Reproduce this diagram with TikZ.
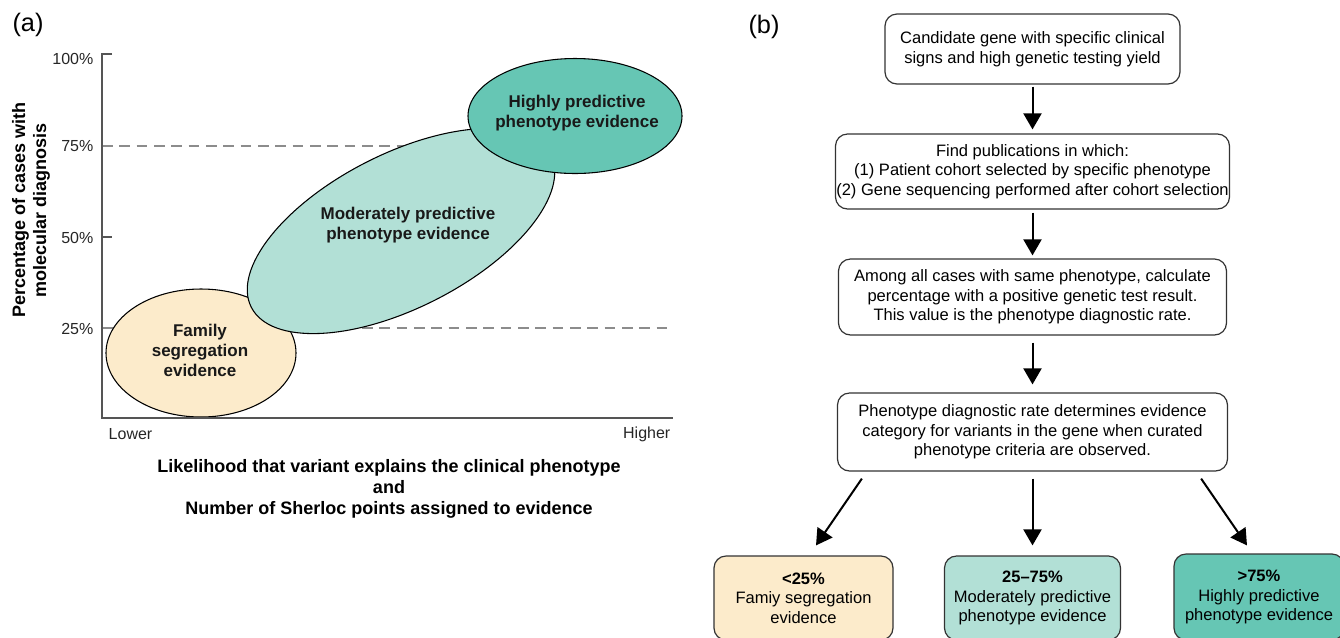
\documentclass[tikz,border=0pt]{standalone}
\usepackage{fontspec}
\setmainfont{Liberation Sans}
\usetikzlibrary{shapes.geometric,arrows.meta,calc}
\definecolor{beige}{HTML}{FCEBCB}
\definecolor{lteal}{HTML}{B2E0D6}
\definecolor{dteal}{HTML}{66C6B4}
\definecolor{axisgray}{HTML}{555555}
\definecolor{dashgray}{HTML}{8C8C8C}
\definecolor{edgegray}{HTML}{333333}
\begin{document}
\begin{tikzpicture}[x=0.75pt,y=-0.75pt,
  blob/.style={ellipse, draw=black, line width=0.8pt, inner sep=0pt},
  blobtext/.style={font=\fontsize{12.75}{15}\selectfont\bfseries, align=center, text=black!90},
  ticklabel/.style={font=\fontsize{12}{14}\selectfont, text=black!85},
  flowbox/.style={draw=edgegray, line width=0.9pt, rounded corners=9pt, align=center, font=\fontsize{12.4}{14.6}\selectfont, inner sep=0pt},
  flowarrow/.style={line width=1.5pt, -{Triangle[length=12pt,width=13.5pt]}},
  panel/.style={font=\fontsize{19}{21}\selectfont},
  axtitle/.style={font=\fontsize{13.5}{15.75}\selectfont\bfseries, align=center},
  guide/.style={dashgray, line width=0.9pt, dash pattern=on 8pt off 5pt}
]
\clip (0,0) rectangle (1340,637);
\useasboundingbox (0,0) rectangle (1340,637);

% ---------- panel (a) ----------
\node[panel] (pa) at (28,25) {(a)};

\coordinate (O) at (102,418);
\coordinate (Ytop) at (102,54);
\coordinate (Xend) at (673,418);

% guides
\draw[guide] (102,146) -- (673,146);
\draw[guide] (102,328) -- (673,328);

% ellipses
\node[blob, fill=beige, minimum width=142.5pt, minimum height=96pt] (fam) at (201,353) {};
\node[blob, fill=lteal, minimum width=252pt, minimum height=115.5pt, rotate=27] (mod) at (401,231) {};
\node[blob, fill=dteal, minimum width=160.5pt, minimum height=86.25pt] (high) at (575,116) {};

\node[blobtext] (famt) at (200,350) {Family\\segregation\\evidence};
\node[blobtext] (modt) at (408,225) {Moderately predictive\\phenotype evidence};
\node[blobtext] (hight) at (577,113) {Highly predictive\\phenotype evidence};

% axes
\draw[axisgray, line width=1.1pt] (112,54) -- (Ytop) -- (O) -- (Xend);
\draw[axisgray, line width=1.1pt] (102,237) -- (112,237);

\node[ticklabel, anchor=east] (t100) at (98,59) {100\%};
\node[ticklabel, anchor=east] (t75) at (98,146) {75\%};
\node[ticklabel, anchor=east] (t50) at (98,238) {50\%};
\node[ticklabel, anchor=east] (t25) at (98,329) {25\%};

\node[ticklabel, anchor=west] (lower) at (104,434) {Lower};
\node[ticklabel, anchor=east] (higher) at (675,434) {Higher};

\node[axtitle, rotate=90] (ytitle) at (31,210) {Percentage of cases with\\molecular diagnosis};
\node[axtitle] (xtitle) at (389,489) {Likelihood that variant explains the clinical phenotype\\and\\Number of Sherloc points assigned to evidence};

% ---------- panel (b) ----------
\node[panel] (pb) at (764,27) {(b)};

\node[flowbox, minimum width=221.25pt, minimum height=52.5pt] (b1) at (1032.5,49)
  {Candidate gene with specific clinical\\signs and high genetic testing yield};
\node[flowbox, minimum width=295.5pt, minimum height=56.25pt] (b2) at (1032.5,171.5)
  {Find publications in which:\\(1) Patient cohort selected by specific phenotype\\(2) Gene sequencing performed after cohort selection};
\node[flowbox, minimum width=291pt, minimum height=57pt] (b3) at (1032.5,297)
  {Among all cases with same phenotype, calculate\\percentage with a positive genetic test result.\\This value is the phenotype diagnostic rate.};
\node[flowbox, minimum width=292.5pt, minimum height=58.5pt] (b4) at (1032.5,432)
  {Phenotype diagnostic rate determines evidence\\category for variants in the gene when curated\\phenotype criteria are observed.};

\node[flowbox, fill=beige, minimum width=134.25pt, minimum height=63pt] (bA) at (803.5,598)
  {\textbf{<25\%}\\Famiy segregation\\evidence};
\node[flowbox, fill=lteal, minimum width=132pt, minimum height=63pt] (bB) at (1032.5,598)
  {\textbf{25--75\%}\\Moderately predictive\\phenotype evidence};
\node[flowbox, fill=dteal, minimum width=127.5pt, minimum height=64.5pt] (bC) at (1259,597)
  {\textbf{>75\%}\\Highly predictive\\phenotype evidence};

\draw[flowarrow] ([yshift=-1.5pt]b1.south) -- ([yshift=3pt]b2.north);
\draw[flowarrow] ([yshift=-2.25pt]b2.south) -- ([yshift=2.25pt]b3.north);
\draw[flowarrow] ([yshift=-5.25pt]b3.south) -- ([yshift=6pt]b4.north);
\draw[flowarrow] ([yshift=-5.25pt]b4.south) -- ([yshift=7.5pt]bB.north);
\draw[flowarrow] ($(b4.south west)+(25,7)$) -- ($(bA.north)+(12.5,-10)$);
\draw[flowarrow] ($(b4.south east)+(-27,7)$) -- ($(bC.north)+(-12,-8)$);
\end{tikzpicture}
\end{document}
